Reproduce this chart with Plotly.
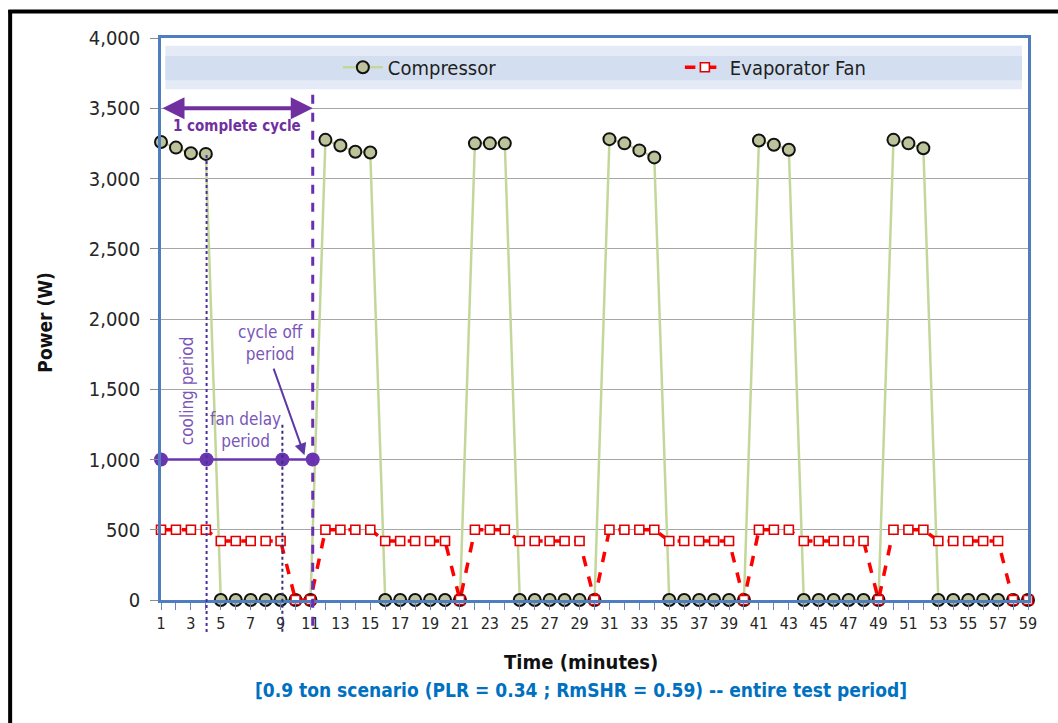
import plotly.graph_objects as go

# ---------------- data ----------------
minutes = list(range(1, 60))
compressor_w = [3260, 3220, 3180, 3175, 0, 0, 0, 0, 0, 0, 0,
                3275, 3235, 3190, 3185, 0, 0, 0, 0, 0, 0,
                3250, 3250, 3250, 0, 0, 0, 0, 0, 0,
                3280, 3250, 3200, 3150, 0, 0, 0, 0, 0, 0,
                3270, 3240, 3205, 0, 0, 0, 0, 0, 0,
                3275, 3250, 3215, 0, 0, 0, 0, 0, 0, 0]
fan_w = [500, 500, 500, 500, 420, 420, 420, 420, 420, 0, 0,
         500, 500, 500, 500, 420, 420, 420, 420, 420, 0,
         500, 500, 500, 420, 420, 420, 420, 420, 0,
         500, 500, 500, 500, 420, 420, 420, 420, 420, 0,
         500, 500, 500, 420, 420, 420, 420, 420, 0,
         500, 500, 500, 420, 420, 420, 420, 420, 0, 0]
x_tick_vals = list(range(1, 60, 2))
y_tick_vals = list(range(0, 4001, 500))
y_tick_text = [f"{v:,}" for v in y_tick_vals]

# cycle markers (minutes) used by the explanatory annotation
cycle_start = 1
cooling_end = 4.05
fan_delay_end = 9.12
cycle_end = 11.15
marker_level = 1000
cycle_arrow_level = 3500

X_RANGE = [1, 59]
Y_RANGE = [0, 4000]

FONT = "Liberation Sans Narrow, DejaVu Sans Condensed, Arial Narrow, Roboto, sans-serif"
PURPLE = "#7030a0"
LIGHT_PURPLE = "#7a56b8"


def xp(v):
    return (v - X_RANGE[0]) / (X_RANGE[1] - X_RANGE[0])


fig = go.Figure()

fig.add_trace(go.Scatter(
    x=minutes, y=compressor_w, name="Compressor", mode="lines+markers",
    line=dict(color="#c4d79b", width=2.5),
    marker=dict(symbol="circle", size=12, color="#bcc29a",
                line=dict(color="#111111", width=2)),
    cliponaxis=False,
))
fig.add_trace(go.Scatter(
    x=minutes, y=fan_w, name="Evaporator Fan", mode="lines+markers",
    line=dict(color="#ff0000", width=3.5, dash="dash"),
    marker=dict(symbol="square", size=9, color="white",
                line=dict(color="#e00000", width=1.6)),
    cliponaxis=False,
))
# purple period markers
fig.add_trace(go.Scatter(
    x=[cycle_start, cooling_end, fan_delay_end, cycle_end],
    y=[marker_level] * 4, mode="lines+markers", showlegend=False,
    line=dict(color="#6a35b0", width=2.5),
    marker=dict(size=14, color="#6a35b0"), cliponaxis=False, hoverinfo="skip",
))

shapes = []
# legend band
shapes.append(dict(type="rect", xref="paper", yref="paper",
                   x0=0.005, x1=0.993, y0=0.909, y1=0.986,
                   fillcolor="#e4ebf6", line=dict(width=0), layer="below"))
shapes.append(dict(type="rect", xref="paper", yref="paper",
                   x0=0.005, x1=0.993, y0=0.925, y1=0.968,
                   fillcolor="#d3dff0", line=dict(width=0), layer="below"))
# dotted lines
shapes.append(dict(type="line", xref="paper", yref="paper",
                   x0=xp(cooling_end), x1=xp(cooling_end), y0=0.792, y1=-0.057,
                   line=dict(color="#4a2e9a", width=2, dash="dot")))
shapes.append(dict(type="line", xref="paper", yref="paper",
                   x0=xp(fan_delay_end), x1=xp(fan_delay_end), y0=0.312, y1=-0.057,
                   line=dict(color="#3a2e7a", width=2, dash="dot")))
# dashed cycle end
shapes.append(dict(type="line", xref="paper", yref="paper",
                   x0=xp(cycle_end), x1=xp(cycle_end), y0=0.899, y1=-0.05,
                   line=dict(color="#6a2fb0", width=3, dash="dash")))
# outer black frame (cut at right/bottom)
shapes.append(dict(type="line", xref="paper", yref="paper",
                   x0=-0.174, x1=-0.174, y0=1.05, y1=-0.3,
                   line=dict(color="black", width=4)))
shapes.append(dict(type="line", xref="paper", yref="paper",
                   x0=-0.176, x1=1.1, y0=1.047, y1=1.047,
                   line=dict(color="black", width=4)))

annotations = [
    dict(x=cycle_end, y=cycle_arrow_level, ax=cycle_start, ay=cycle_arrow_level,
         xref="x", yref="y", axref="x", ayref="y", text="", showarrow=True,
         arrowhead=2, startarrowhead=2, arrowside="end+start", arrowwidth=4,
         arrowsize=1.1, startarrowsize=1.1, arrowcolor=PURPLE),
    dict(x=6.1, y=3373, xref="x", yref="y", text="<b>1 complete cycle</b>",
         showarrow=False, font=dict(family=FONT, size=15, color=PURPLE)),
    dict(x=2.75, y=1487, xref="x", yref="y", text="cooling period", textangle=-90,
         showarrow=False, font=dict(family=FONT, size=17, color=LIGHT_PURPLE)),
    dict(x=6.63, y=1210, xref="x", yref="y", text="fan delay<br>period",
         showarrow=False, font=dict(family=FONT, size=17, color=LIGHT_PURPLE)),
    dict(x=8.3, y=1829, xref="x", yref="y", text="cycle off<br>period",
         showarrow=False, font=dict(family=FONT, size=17, color=LIGHT_PURPLE)),
    dict(x=10.6, y=1030, ax=8.5, ay=1658, xref="x", yref="y", axref="x", ayref="y",
         text="", showarrow=True, arrowhead=2, arrowwidth=2, arrowsize=1.2,
         arrowcolor="#5b3aa8"),
    dict(x=-0.134, y=0.495, xref="paper", yref="paper", text="<b>Power (W)</b>",
         xanchor="center", yanchor="middle",
         textangle=-90, showarrow=False, font=dict(family=FONT, size=19, color="#111111")),
    dict(x=0.485, y=-0.110, xref="paper", yref="paper", text="<b>Time (minutes)</b>",
         xanchor="center", yanchor="middle",
         showarrow=False, font=dict(family=FONT, size=20, color="#111111")),
    dict(x=0.485, y=-0.160, xref="paper", yref="paper",
         text="<b>[0.9 ton scenario (PLR = 0.34 ; RmSHR = 0.59) -- entire test period]</b>",
         xanchor="center", yanchor="middle",
         showarrow=False, font=dict(family=FONT, size=19, color="#0070c0")),
]

fig.update_layout(
    width=1058, height=723,
    margin=dict(l=161, r=30, t=38, b=123, autoexpand=False),
    paper_bgcolor="white", plot_bgcolor="white",
    font=dict(family=FONT, size=17, color="#262626"),
    showlegend=True,
    legend=dict(orientation="h", x=0.204, y=0.948, xanchor="left", yanchor="middle",
                bgcolor="rgba(0,0,0,0)", font=dict(family=FONT, size=20, color="#1f1f1f"),
                entrywidth=287, itemwidth=40),
    xaxis=dict(range=X_RANGE, tickmode="array", tickvals=x_tick_vals,
               ticks="outside", ticklen=7, tickcolor="#6f84b8",
               minor=dict(ticks="outside", dtick=1, tick0=1, ticklen=7, tickcolor="#6f84b8"),
               showgrid=False, zeroline=False,
               showline=True, linecolor="#4f7ec0", linewidth=2.5, mirror=True,
               tickfont=dict(family=FONT, size=16, color="#262626")),
    xaxis2=dict(range=X_RANGE, overlaying="x", anchor="y", side="bottom",
                tickmode="linear", tick0=1, dtick=1, ticks="inside", ticklen=7,
                tickcolor="#6f84b8", showticklabels=False, showgrid=False,
                zeroline=False, showline=False),
    yaxis=dict(range=Y_RANGE, tickmode="array", tickvals=y_tick_vals, ticktext=y_tick_text,
               ticks="outside", ticklen=8, tickcolor="#8c8c8c",
               showgrid=True, gridcolor="#a6a6a6", gridwidth=1, zeroline=False,
               showline=True, linecolor="#4f7ec0", linewidth=2.5, mirror=True,
               ticklabelstandoff=6,
               tickfont=dict(family=FONT, size=20, color="#262626")),
    shapes=shapes,
    annotations=annotations,
)

fig.write_html("out.html")
